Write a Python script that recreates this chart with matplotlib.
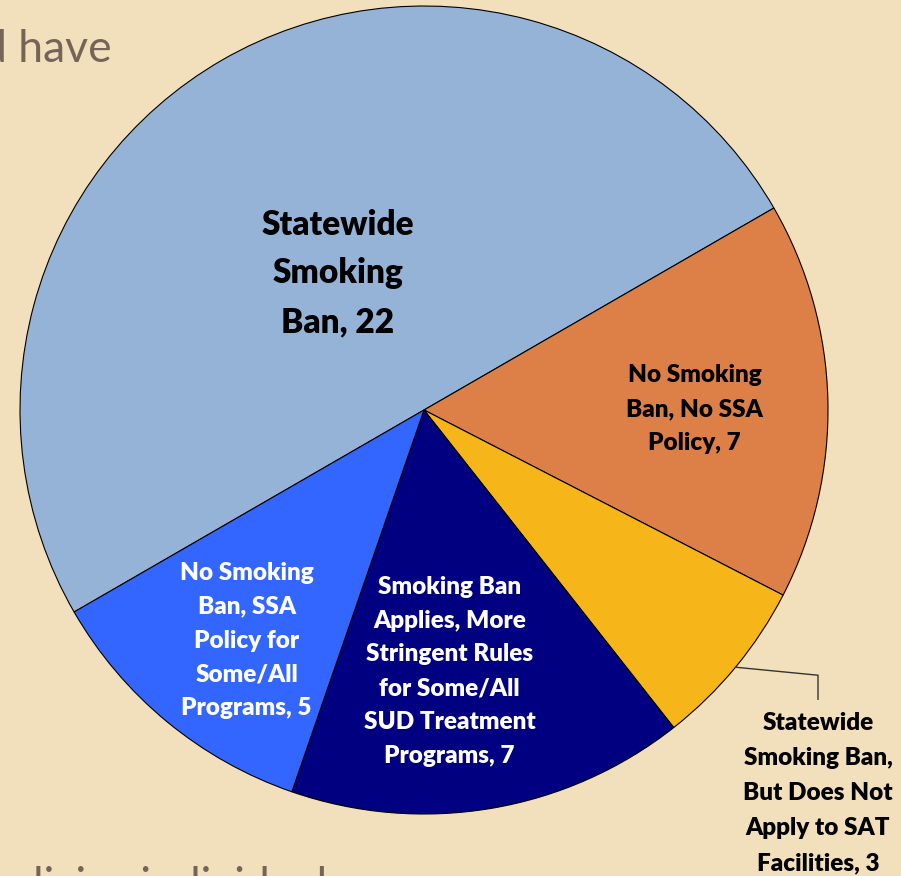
import numpy as np
import matplotlib
matplotlib.use("Agg")
import matplotlib.pyplot as plt

# ---- data ----
categories = [
    "Statewide\nSmoking\nBan, 22",
    "No Smoking\nBan, No SSA\nPolicy, 7",
    "Statewide\nSmoking Ban,\nBut Does Not\nApply to SAT\nFacilities, 3",
    "Smoking Ban\nApplies, More\nStringent Rules\nfor Some/All\nSUD Treatment\nPrograms, 7",
    "No Smoking\nBan, SSA\nPolicy for\nSome/All\nPrograms, 5",
]
values = [22, 7, 3, 7, 5]
colors = ["#95B3D7", "#DD8048", "#F6B619", "#000080", "#3366FF"]
text_colors = ["black", "black", "black", "white", "white"]

BG = "#F2DFBB"
W, H = 901, 876
fig = plt.figure(figsize=(W / 100, H / 100), dpi=100, facecolor=BG)
ax = fig.add_axes([0, 0, 1, 1])
ax.set_facecolor(BG)

cx, cy, R = 424, H - 410, 404
wedges, _ = ax.pie(values, colors=colors, startangle=210, counterclock=False,
                   center=(cx, cy), radius=R,
                   wedgeprops=dict(edgecolor="black", linewidth=0.8))
ax.set_xlim(0, W)
ax.set_ylim(0, H)
ax.set_aspect("equal")
ax.axis("off")

FONT = "Lato"
WEIGHT = "heavy"
# label placement: (radius fraction, angle offset, fontsize, linespacing)
place = [(0.40, 2.3, 24, 1.64), (0.67, -1.2, 17.5, 1.68), None,
         (0.65, -4.0, 17.5, 1.66), (0.72, 2.0, 17.5, 1.66)]
for i, w in enumerate(wedges):
    mid = np.deg2rad((w.theta1 + w.theta2) / 2)
    if place[i] is None:
        # outside label with leader line
        ex, ey = cx + R * np.cos(mid), cy + R * np.sin(mid)
        lx = 818
        ax.plot([ex, lx, lx], [ey, ey - 8, ey - 32], color="#333333", lw=1.0,
                solid_joinstyle="miter")
        ax.text(lx, ey - 45, categories[i], ha="center", va="top",
                fontsize=17.5, fontweight=WEIGHT, family=FONT,
                color=text_colors[i], linespacing=1.72)
        continue
    rf, dang, fs, ls = place[i]
    a = mid + np.deg2rad(dang)
    tx, ty = cx + rf * R * np.cos(a), cy + rf * R * np.sin(a)
    ax.text(tx, ty, categories[i], ha="center", va="center", fontsize=fs,
            fontweight=WEIGHT, family=FONT, color=text_colors[i],
            linespacing=ls)

# background slide text fragments
ax.text(112, H - 62, "d have", ha="right", va="baseline", fontsize=32,
        family=FONT, color="#766459")
ax.text(-17, H - 899, "policies individual", ha="left", va="baseline",
        fontsize=32, family=FONT, color="#766459")

fig.savefig("out.png", dpi=100, facecolor=BG)
